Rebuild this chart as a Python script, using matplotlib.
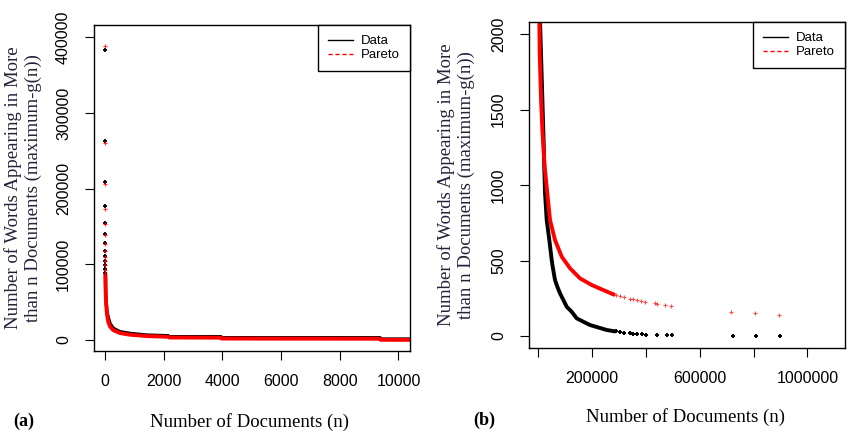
import matplotlib
matplotlib.use("Agg")
from matplotlib import pyplot as plt
from matplotlib.lines import Line2D

# ---- panel (a): n up to 10000 ----
a_n_top = [1, 2, 3, 4, 5, 6, 7, 8, 9, 10, 11, 12, 13]
a_data_top = [382800, 263000, 209000, 177000, 155000, 140000, 127800,
              118000, 110600, 104400, 99100, 93400, 88100]
a_pareto_top = [388500, 260300, 206500, 173500, 153300, 139000, 127000,
                117500, 109800, 103800, 98500, 93200, 88500]

a_n_curve = [14, 20, 28, 38, 50, 68, 112, 170, 283, 511, 852, 1420,
             2150, 2200, 3950, 3980, 9370, 9400, 10500]
a_data_curve = [86000, 72000, 60000, 52000, 46000, 37000, 30000, 22000,
                15500, 11000, 8800, 6600, 5700, 4400, 4400, 3040, 3040,
                1320, 1320]
a_pareto_curve = [84000, 68000, 56000, 48000, 42000, 34000, 24000, 18000,
                  13000, 9200, 7000, 5200, 4300, 3300, 3100, 1900, 1700,
                  300, 200]

# ---- panel (b): n up to 1e6, y cut at 2000 ----
b_n_data = [6300, 10000, 16300, 20000, 22000, 25000, 31200, 40900, 49800,
            53500, 62100, 70600, 80700, 93000, 105500, 124000, 142700,
            167000, 192000, 254000, 280000]
b_data = [2100, 1874, 1498, 1277, 1122, 946, 769, 636, 504, 459, 371, 327,
          283, 239, 194, 161, 117, 95, 73, 40, 32]
b_n_data_pts = [290000, 305000, 318000, 340000, 352000, 365000, 384000,
                400000, 442000, 477000, 495900, 722600, 810000, 899000]
b_data_pts = [30, 26, 23, 19, 16, 14, 11, 8, 6, 5, 4, 3, 2, 1]

b_n_pareto = [3700, 5200, 10000, 15000, 23600, 33500, 43500, 62100, 87000,
              117800, 155000, 198500, 235700, 278800]
b_pareto = [2100, 1874, 1576, 1366, 1122, 946, 769, 636, 526, 449, 382, 338,
            309, 276]
b_n_pareto_pts = [290000, 305000, 318000, 340000, 352000, 365000, 381700,
                  395500, 435000, 442000, 472000, 493000, 717400, 806600,
                  895800]
b_pareto_pts = [270, 262, 258, 248, 243, 238, 232, 225, 217, 210, 205, 199,
                157, 150, 137]

serif = "Liberation Serif"
sans = "Liberation Sans"
lab_col = "#22223a"

W, H = 860, 441
fig = plt.figure(figsize=(W / 100, H / 100), dpi=100)

ax1 = fig.add_axes([94 / W, 1 - 351 / H, 316 / W, 326 / H])
ax2 = fig.add_axes([529 / W, 1 - 348 / H, 316 / W, 326 / H])

# panel a
ax1.plot(a_n_curve, a_data_curve, color="k", lw=2.4, solid_joinstyle="miter")
ax1.plot(a_n_top, a_data_top, ls="none", marker="+", ms=3.5, mew=1.3, color="k")
ax1.plot(a_n_curve, a_pareto_curve, color="red", lw=2.8, solid_joinstyle="miter")
ax1.plot(a_n_top, a_pareto_top, ls="none", marker="+", ms=2.5, mew=0.8,
         color="red", alpha=0.8)
ax1.set_xlim(-375, 10392)
ax1.set_ylim(-14500, 416300)
ax1.set_xticks([0, 2000, 4000, 6000, 8000, 10000])
ax1.set_yticks([0, 100000, 200000, 300000, 400000])

# panel b
ax2.plot(b_n_data, b_data, color="k", lw=2.8)
ax2.plot(b_n_data_pts, b_data_pts, ls="none", marker="+", ms=3.5, mew=1.4, color="k")
ax2.plot(b_n_pareto, b_pareto, color="red", lw=2.8)
ax2.plot(b_n_pareto_pts, b_pareto_pts, ls="none", marker="+", ms=2.5, mew=0.8,
         color="red", alpha=0.7)
ax2.set_xlim(-34600, 1140000)
ax2.set_ylim(-79.5, 2081)
ax2.set_xticks([0, 200000, 400000, 600000, 800000, 1000000])
ax2.set_xticklabels(["", "200000", "", "600000", "", "1000000"])
ax2.set_yticks([0, 500, 1000, 1500, 2000])

handles = [Line2D([], [], color="k", lw=1),
           Line2D([], [], color="red", lw=1, ls=(0, (3, 2)))]
for ax in (ax1, ax2):
    for s in ax.spines.values():
        s.set_linewidth(1.0)
    ax.tick_params(direction="out", length=6.5, width=0.8, pad=10,
                   labelsize=11.5)
    ax.tick_params(axis="y", labelrotation=90)
    for t in ax.get_yticklabels():
        t.set_va("center")
        t.set_fontfamily(sans)
    for t in ax.get_xticklabels():
        t.set_fontfamily(sans)
    leg = ax.legend(handles, ["Data", "Pareto"], loc="upper right",
                    borderaxespad=0, fancybox=False, framealpha=1,
                    edgecolor="k", prop={"family": sans, "size": 9.5},
                    handlelength=1.9, handletextpad=0.6, labelspacing=0.15,
                    borderpad=0.75)
    leg.get_frame().set_linewidth(1.0)

ylab = "Number of Words Appearing in More\nthan n Documents (maximum-g(n))"
fig.text(23 / W, 1 - 188 / H, ylab, rotation=90, ha="center", va="center",
         multialignment="center", family=serif, size=13.5, color=lab_col,
         linespacing=1.22)
fig.text(456 / W, 1 - 185 / H, ylab, rotation=90, ha="center", va="center",
         multialignment="center", family=serif, size=13.5, color=lab_col,
         linespacing=1.22)
fig.text(249 / W, 1 - 422 / H, "Number of Documents (n)", ha="center",
         va="center", family=serif, size=13.5)
fig.text(686 / W, 1 - 417 / H, "Number of Documents (n)", ha="center",
         va="center", family=serif, size=13.5)
fig.text(24 / W, 1 - 421 / H, "(a)", ha="center", va="center", family=serif,
         size=13, weight="bold")
fig.text(484 / W, 1 - 420 / H, "(b)", ha="center", va="center", family=serif,
         size=13, weight="bold")

fig.savefig("out.png", dpi=100)
